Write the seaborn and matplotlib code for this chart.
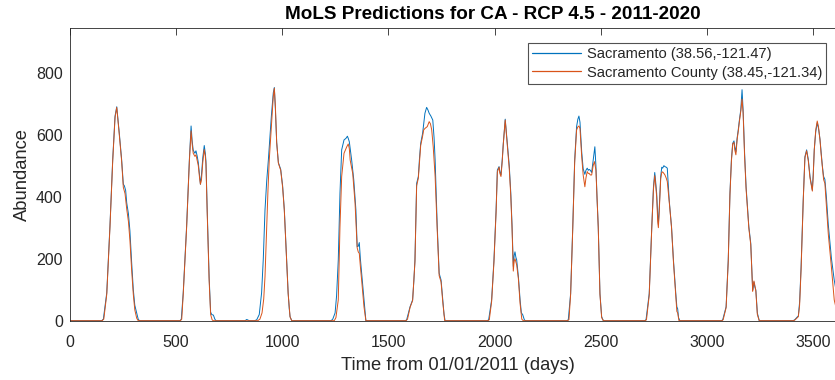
import numpy as np
import pandas as pd
import matplotlib
matplotlib.use("Agg")
import matplotlib.pyplot as plt
import seaborn as sns

# MoLS abundance predictions, RCP 4.5, 2011-2020 (day offset from 01/01/2011)
sac_days = [0, 150, 158, 174, 189, 202, 213, 221, 233, 244, 252, 257, 263, 268, 276, 283, 291, 299, 306, 313, 322, 328,
            519, 525, 534, 550, 563, 571, 576, 581, 589, 594, 600, 605, 611, 615, 620, 626, 633, 638, 641, 647, 656, 663, 668, 676, 683, 688,
            825, 833, 845,
            870, 880, 892, 903, 911, 919, 927, 935, 942, 949, 958, 963, 968, 974, 982, 993, 1002, 1010, 1021, 1028, 1033, 1037, 1045,
            1230, 1238, 1249, 1256, 1264, 1272, 1280, 1291, 1300, 1307, 1311, 1316, 1327, 1337, 1347, 1353, 1358, 1363, 1368, 1374, 1385, 1394,
            1580, 1586, 1602, 1610, 1614, 1620, 1625, 1633, 1641, 1646, 1652, 1661, 1672, 1680, 1686, 1692, 1700, 1709, 1715, 1720, 1730, 1739, 1744, 1748, 1756, 1762, 1767,
            1965, 1972, 1986, 1997, 2007, 2013, 2021, 2025, 2030, 2036, 2041, 2050, 2055, 2060, 2069, 2076, 2082, 2088, 2092, 2096, 2100, 2104, 2112, 2120, 2126, 2132, 2140, 2145,
            2340, 2347, 2358, 2368, 2377, 2386, 2392, 2397, 2402, 2410, 2417, 2425, 2430, 2436, 2441, 2445, 2451, 2457, 2464, 2472, 2477, 2482, 2488, 2496, 2504, 2512,
            2706, 2713, 2728, 2740, 2748, 2754, 2758, 2763, 2768, 2771, 2775, 2782, 2787, 2791, 2797, 2802, 2808, 2813, 2822, 2833, 2842, 2853, 2858, 2862, 2866, 2872,
            3068, 3074, 3090, 3100, 3108, 3115, 3121, 3127, 3131, 3136, 3142, 3147, 3153, 3159, 3165, 3170, 3177, 3184, 3190, 3197, 3206, 3210, 3215, 3218, 3221, 3225, 3230, 3237, 3246,
            3405, 3413, 3425, 3430, 3436, 3443, 3453, 3461, 3469, 3477, 3485, 3496, 3500, 3505, 3512, 3519, 3525, 3532, 3537, 3543, 3549, 3555, 3562, 3571, 3586, 3599, 3612, 3625, 3640, 3652]
sac_vals = [0, 0, 5, 90, 305, 520, 660, 690, 605, 520, 440, 435, 420, 380, 345, 290, 190, 100, 50, 30, 5, 0,
            0, 5, 90, 305, 520, 628, 580, 550, 540, 548, 530, 510, 470, 440, 470, 525, 565, 540, 515, 355, 140, 28, 20, 18, 5, 0,
            0, 4, 0,
            0, 3, 20, 90, 200, 357, 450, 520, 590, 660, 735, 752, 680, 575, 510, 488, 435, 358, 198, 90, 40, 13, 0,
            0, 5, 25, 80, 196, 411, 551, 583, 588, 595, 588, 577, 518, 454, 357, 239, 240, 252, 200, 153, 67, 0,
            0, 3, 45, 60, 67, 130, 196, 443, 465, 520, 572, 604, 669, 688, 680, 669, 660, 647, 590, 518, 303, 153, 140, 131, 67, 20, 0,
            0, 3, 67, 196, 357, 486, 497, 480, 470, 520, 572, 650, 610, 572, 500, 415, 310, 175, 210, 222, 205, 196, 142, 67, 25, 20, 3, 0,
            0, 3, 88, 303, 518, 626, 650, 660, 640, 545, 490, 472, 485, 492, 485, 488, 485, 478, 518, 561, 500, 400, 303, 88, 13, 0,
            0, 3, 88, 303, 432, 478, 450, 411, 340, 310, 360, 465, 495, 492, 500, 497, 495, 492, 389, 303, 196, 88, 45, 38, 10, 0,
            0, 3, 45, 196, 411, 520, 572, 580, 560, 545, 590, 615, 650, 680, 745, 680, 540, 432, 370, 303, 250, 180, 99, 110, 125, 110, 99, 25, 0,
            0, 3, 12, 15, 60, 174, 389, 529, 551, 520, 465, 421, 470, 551, 610, 638, 620, 585, 545, 500, 465, 456, 400, 310, 200, 131, 80, 40, 10, 0]

county_days = [0, 152, 160, 174, 189, 202, 213, 221, 233, 244, 252, 260, 268, 276, 283, 291, 299, 306, 315, 322,
               521, 527, 534, 550, 563, 571, 576, 581, 589, 594, 600, 605, 611, 615, 620, 626, 633, 638, 641, 647, 656, 663, 670, 675,
               885, 895, 905, 913, 919, 927, 933, 939, 949, 958, 963, 968, 974, 982, 993, 1002, 1010, 1021, 1028, 1037, 1045,
               1245, 1253, 1264, 1272, 1280, 1291, 1304, 1311, 1316, 1320, 1332, 1343, 1353, 1358, 1363, 1368, 1374, 1385, 1394,
               1583, 1590, 1602, 1614, 1625, 1633, 1641, 1652, 1661, 1666, 1672, 1683, 1692, 1698, 1704, 1711, 1720, 1730, 1739, 1748, 1756, 1765,
               1968, 1975, 1986, 1997, 2007, 2013, 2021, 2025, 2030, 2036, 2041, 2050, 2055, 2060, 2069, 2076, 2082, 2088, 2092, 2096, 2100, 2104, 2112, 2120, 2128, 2135,
               2343, 2350, 2358, 2368, 2377, 2386, 2392, 2397, 2402, 2410, 2417, 2425, 2430, 2436, 2441, 2445, 2451, 2457, 2464, 2470, 2477, 2482, 2488, 2496, 2504, 2512,
               2708, 2715, 2728, 2740, 2748, 2754, 2758, 2763, 2768, 2771, 2775, 2782, 2787, 2791, 2797, 2802, 2808, 2813, 2822, 2833, 2842, 2853, 2858, 2862, 2868,
               3070, 3076, 3090, 3100, 3108, 3115, 3121, 3127, 3131, 3136, 3142, 3147, 3153, 3159, 3165, 3170, 3177, 3184, 3190, 3197, 3206, 3210, 3215, 3218, 3221, 3225, 3230, 3237, 3246,
               3408, 3415, 3425, 3430, 3436, 3443, 3453, 3461, 3469, 3477, 3485, 3496, 3500, 3505, 3512, 3519, 3525, 3532, 3537, 3543, 3549, 3555, 3562, 3571, 3586, 3599, 3608, 3620, 3635, 3652]
county_vals = [0, 0, 5, 85, 300, 515, 655, 688, 600, 515, 430, 410, 360, 320, 260, 165, 85, 35, 8, 0,
               0, 5, 85, 300, 515, 612, 570, 540, 530, 535, 515, 500, 460, 440, 455, 510, 552, 530, 505, 345, 130, 20, 3, 0,
               0, 5, 25, 70, 142, 303, 420, 518, 626, 723, 750, 690, 575, 508, 485, 430, 355, 195, 88, 12, 0,
               0, 10, 67, 303, 465, 540, 561, 570, 555, 518, 475, 379, 235, 222, 217, 175, 131, 45, 0,
               0, 5, 43, 65, 190, 435, 460, 565, 595, 615, 620, 626, 642, 635, 615, 561, 465, 290, 145, 125, 60, 0,
               0, 3, 62, 190, 350, 480, 495, 475, 465, 515, 570, 647, 605, 565, 490, 405, 300, 160, 192, 200, 190, 180, 135, 55, 5, 0,
               0, 3, 85, 298, 510, 615, 625, 628, 620, 530, 470, 432, 460, 481, 475, 475, 470, 470, 500, 513, 486, 400, 300, 85, 10, 0,
               0, 3, 82, 300, 425, 468, 440, 400, 320, 300, 350, 458, 478, 480, 475, 470, 460, 449, 385, 300, 190, 80, 30, 25, 0,
               0, 3, 42, 190, 405, 515, 570, 575, 550, 535, 585, 610, 645, 675, 715, 670, 530, 425, 365, 298, 245, 175, 95, 115, 128, 115, 95, 20, 0,
               0, 3, 10, 13, 50, 165, 385, 525, 548, 515, 460, 418, 465, 551, 615, 644, 625, 583, 540, 497, 455, 443, 370, 280, 170, 67, 40, 10, 0, 0]

series_names = ["Sacramento (38.56,-121.47)", "Sacramento County (38.45,-121.34)"]
series_colors = ["#0072BD", "#D95319"]
x_ticks = [0, 500, 1000, 1500, 2000, 2500, 3000, 3500]
y_ticks = [0, 200, 400, 600, 800]

df = pd.concat([
    pd.DataFrame({"day": sac_days, "abundance": sac_vals, "site": series_names[0]}),
    pd.DataFrame({"day": county_days, "abundance": county_vals, "site": series_names[1]}),
], ignore_index=True)

sns.set_style("white")
plt.rcParams["font.family"] = ["Liberation Sans", "DejaVu Sans"]

W, H = 835, 380
fig = plt.figure(figsize=(W / 100, H / 100), dpi=100)
# the x range runs to 4000 days; the plot area continues past the right edge of the canvas
ax = fig.add_axes([69.8 / W, 59.3 / H, 849.6 / W, 293.0 / H])

sns.lineplot(data=df, x="day", y="abundance", hue="site", hue_order=series_names,
             palette=series_colors, estimator=None, sort=False, linewidth=0.7, ax=ax)

ax.set_xlim(0, 4000)
ax.set_ylim(0, 945)
ax.set_xticks(x_ticks)
ax.set_yticks(y_ticks)
ax.tick_params(axis="both", which="both", direction="in", length=5, width=0.6,
               colors="#262626", labelsize=11.5, top=True, right=True)
ax.tick_params(axis="x", pad=10.5)
ax.tick_params(axis="y", pad=5)
for s in ax.spines.values():
    s.set_visible(True)
    s.set_color("#262626")
    s.set_linewidth(0.6)

ax.set_title("MoLS Predictions for CA - RCP 4.5 - 2011-2020", fontsize=13.6,
             fontweight="bold", color="black", x=(493 - 69.8) / 849.6, pad=6.5)
ax.set_xlabel("Time from 01/01/2011 (days)", fontsize=13.2, color="#262626")
ax.set_ylabel("Abundance", fontsize=13.2, color="#262626")
ax.xaxis.set_label_coords((458 - 69.8) / 849.6, -0.123)
ax.yaxis.set_label_coords(-0.046, 0.5)

leg = ax.legend(loc="upper left", bbox_to_anchor=(528 / W, 1 - 43 / H),
                bbox_transform=fig.transFigure, borderaxespad=0, fontsize=10.6,
                frameon=True, fancybox=False, edgecolor="#262626",
                handlelength=3.3, handletextpad=0.4, borderpad=0.28, labelspacing=0.3)
leg.get_frame().set_linewidth(0.8)
for line in leg.get_lines():
    line.set_linewidth(0.9)

fig.savefig("out.png", dpi=100)
